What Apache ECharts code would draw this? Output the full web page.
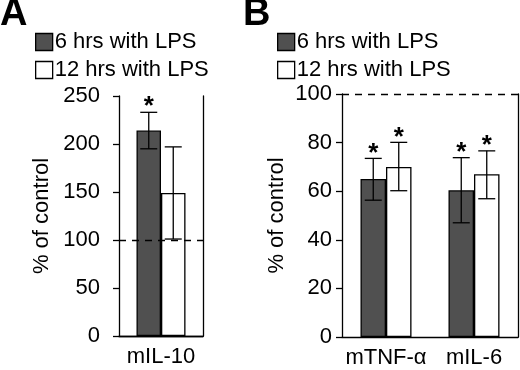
<!DOCTYPE html>
<html>
<head>
<meta charset="utf-8">
<script src="https://cdn.jsdelivr.net/npm/echarts@6/dist/echarts.min.js"></script>
<style>
  html, body { margin: 0; padding: 0; background: #fff; }
  #chart { width: 520px; height: 370px; }
</style>
</head>
<body>
<div id="chart"></div>
<script>
// panel A data
var catsA = ['mIL-10'];
var a6 = [214];
var a12 = [149];
var a6Err = [[195, 233]];
var a12Err = [[101, 197]];
var a6Star = [true];
var a12Star = [false];
var ticksA = { min: 0, max: 250, interval: 50 };

// panel B data
var catsB = ['mTNF-α', 'mIL-6'];
var b6 = [65, 60.4];
var b12 = [70, 67];
var b6Err = [[56.3, 73.5], [47, 73.8]];
var b12Err = [[60.2, 80.1], [56.9, 76.6]];
var b6Star = [true, true];
var b12Star = [true, true];
var ticksB = { min: 0, max: 100, interval: 20 };

var legendNames = ['6 hrs with LPS', '12 hrs with LPS'];
var font = 'Liberation Sans, Arial, sans-serif';
var dark = '#505050';

var myChart = echarts.init(document.getElementById('chart'));

// error bar + optional star, shifted by dx from category center
function errSeries(name, gridIdx, errs, stars, dx) {
    var data = errs.map(function (e, i) {
        return [i, e[0], e[1], stars[i] ? 1 : 0];
    });
    return {
        type: 'custom',
        name: name + ' err',
        xAxisIndex: gridIdx,
        yAxisIndex: gridIdx,
        z: 10,
        silent: true,
        data: data,
        renderItem: function (params, api) {
            var lo = api.coord([api.value(0), api.value(1)]);
            var hi = api.coord([api.value(0), api.value(2)]);
            var x = lo[0] + dx;
            var cap = 8.5;
            var st = { stroke: '#000', lineWidth: 1.3 };
            var children = [
                { type: 'line', shape: { x1: x, y1: lo[1], x2: x, y2: hi[1] }, style: st },
                { type: 'line', shape: { x1: x - cap, y1: lo[1], x2: x + cap, y2: lo[1] }, style: st },
                { type: 'line', shape: { x1: x - cap, y1: hi[1], x2: x + cap, y2: hi[1] }, style: st }
            ];
            if (api.value(3)) {
                children.push({
                    type: 'text',
                    style: {
                        text: '*', x: x, y: hi[1] + 8,
                        align: 'center', verticalAlign: 'bottom',
                        font: 'bold 26px ' + font, fill: '#000'
                    }
                });
            }
            return { type: 'group', children: children };
        }
    };
}

function barSeries(name, gridIdx, values, color, bw, withLine) {
    var s = {
        type: 'bar',
        name: name,
        xAxisIndex: gridIdx,
        yAxisIndex: gridIdx,
        data: values,
        barWidth: bw,
        barGap: '0%',
        itemStyle: { color: color, borderColor: '#000', borderWidth: 1.3 }
    };
    if (withLine) {
        s.markLine = {
            silent: true,
            symbol: 'none',
            label: { show: false },
            lineStyle: { color: '#000', width: 1.3, type: [7, 6] },
            data: [{ yAxis: 100 }]
        };
    }
    return s;
}

function valueAxis(gridIdx, t, margin, nameGap) {
    return {
        type: 'value',
        gridIndex: gridIdx,
        min: t.min, max: t.max, interval: t.interval,
        name: '% of control',
        nameLocation: 'middle',
        nameGap: nameGap,
        nameTextStyle: { color: '#000', fontSize: 22, fontFamily: font },
        axisLine: { show: true, lineStyle: { color: '#000', width: 1.3 } },
        axisTick: { show: true, length: 6, lineStyle: { color: '#000', width: 1.3 } },
        axisLabel: { color: '#000', fontSize: 22, fontFamily: font, margin: margin },
        splitLine: { show: false }
    };
}

function frameY(gridIdx, t) {
    return {
        type: 'value', gridIndex: gridIdx, position: 'right',
        min: t.min, max: t.max, interval: t.interval,
        axisLine: { show: true, lineStyle: { color: '#000', width: 1.3 } },
        axisTick: { show: false }, axisLabel: { show: false }, splitLine: { show: false }
    };
}

function catAxis(gridIdx, cats) {
    return {
        type: 'category', gridIndex: gridIdx, data: cats,
        axisLine: { lineStyle: { color: '#000', width: 1.3 } },
        axisTick: { length: 6, lineStyle: { color: '#000', width: 1.3 } },
        axisLabel: { color: '#000', fontSize: 22, fontFamily: font, margin: 10, interval: 0, hideOverlap: false }
    };
}

function legendAt(left, top) {
    return {
        left: left, top: top, orient: 'vertical',
        itemWidth: 17, itemHeight: 17, itemGap: 6,
        icon: 'rect',
        textStyle: { color: '#000', fontSize: 22, fontFamily: font, padding: [0, 0, 0, -3] },
        selectedMode: false,
        data: [
            { name: legendNames[0], itemStyle: { color: dark, borderColor: '#000', borderWidth: 1.3 } },
            { name: legendNames[1], itemStyle: { color: '#fff', borderColor: '#000', borderWidth: 1.3 } }
        ]
    };
}

option = {
    backgroundColor: '#fff',
    animation: false,
    graphic: [
        { type: 'text', left: 0, top: -4, style: { text: 'A', font: 'bold 38px ' + font, fill: '#000' } },
        { type: 'text', left: 243, top: -4, style: { text: 'B', font: 'bold 38px ' + font, fill: '#000' } }
    ],
    legend: [legendAt(30, 26), legendAt(272, 26)],
    grid: [
        { left: 119, width: 84, top: 96, height: 240 },
        { left: 342, width: 176, top: 94, height: 243 }
    ],
    xAxis: [
        catAxis(0, catsA),
        catAxis(1, catsB),
        {
            type: 'category', gridIndex: 0, position: 'top', data: catsA,
            axisLine: { show: true, lineStyle: { color: '#000', width: 1.3 } },
            axisTick: { show: false }, axisLabel: { show: false }
        }
    ],
    yAxis: [
        valueAxis(0, ticksA, 19, 66),
        valueAxis(1, ticksB, 10, 54),
        frameY(0, ticksA),
        frameY(1, ticksB)
    ],
    series: [
        barSeries(legendNames[0], 0, a6, dark, 24.5, true),
        barSeries(legendNames[1], 0, a12, '#fff', 24.5, false),
        barSeries(legendNames[0], 1, b6, dark, 25.5, true),
        barSeries(legendNames[1], 1, b12, '#fff', 25.5, false),
        errSeries(legendNames[0], 0, a6Err, a6Star, -12.25),
        errSeries(legendNames[1], 0, a12Err, a12Star, 12.25),
        errSeries(legendNames[0], 1, b6Err, b6Star, -12.75),
        errSeries(legendNames[1], 1, b12Err, b12Star, 12.75)
    ]
};
myChart.setOption(option);
</script>
</body>
</html>
